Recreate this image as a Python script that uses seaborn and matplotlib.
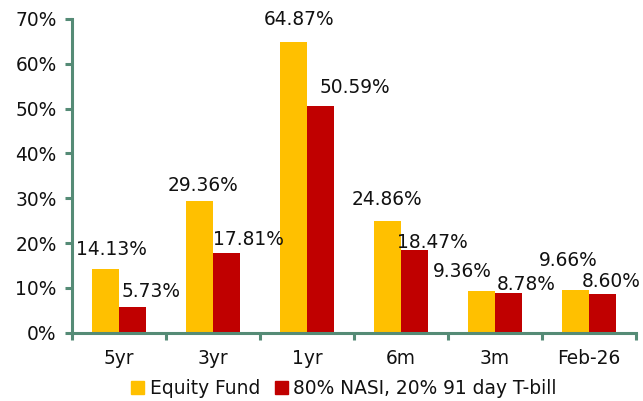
import matplotlib
matplotlib.use("Agg")
import matplotlib.pyplot as plt
from matplotlib.ticker import FixedLocator, PercentFormatter
import seaborn as sns
import pandas as pd

# --- 데이터 ---
periods = ["5yr", "3yr", "1yr", "6m", "3m", "Feb-26"]
fund_name = "Equity Fund"
bench_name = "80% NASI, 20% 91 day T-bill"
fund_returns = [14.13, 29.36, 64.87, 24.86, 9.36, 9.66]
bench_returns = [5.73, 17.81, 50.59, 18.47, 8.78, 8.60]

# label offsets (pixels) from the top of each bar, as Excel placed them
fund_label_offsets = [(6, 20), (4, 16), (6, 22), (0, 22), (-19, 19), (-7, 29)]
bench_label_offsets = [(18, 16), (22, 13), (34, 18), (18, 7), (18, 9), (9, 13)]

YELLOW = "#FFC000"
RED = "#C00000"
AXIS = "#558B76"
TEXT = "#111111"
FS = 13.4

df = pd.DataFrame({
    "period": periods * 2,
    "series": [fund_name] * len(periods) + [bench_name] * len(periods),
    "value": fund_returns + bench_returns,
})

sns.set_style("white")
plt.rcParams["font.family"] = ["DejaVu Sans"]

fig, ax = plt.subplots(figsize=(6.43, 4.01), dpi=100)
fig.subplots_adjust(left=0.112, right=0.989, bottom=0.170, top=0.953)

sns.barplot(data=df, x="period", y="value", hue="series",
            palette=[YELLOW, RED], width=0.58, gap=0, ax=ax,
            saturation=1, legend=False, linewidth=0)

ax.set_xlim(-0.5, len(periods) - 0.5)
ax.set_ylim(0, 70)
ax.yaxis.set_major_locator(FixedLocator(range(0, 71, 10)))
ax.yaxis.set_major_formatter(PercentFormatter(decimals=0))
ax.set_xlabel("")
ax.set_ylabel("")

for side in ["top", "right"]:
    ax.spines[side].set_visible(False)
for side in ["left", "bottom"]:
    ax.spines[side].set_color(AXIS)
    ax.spines[side].set_linewidth(2.2)

ax.tick_params(axis="y", which="major", left=True, length=5, width=2.2,
               color=AXIS, labelsize=FS, pad=6, labelcolor=TEXT)
ax.tick_params(axis="x", which="major", length=0, labelsize=FS, pad=12,
               labelcolor=TEXT)
ax.xaxis.set_minor_locator(FixedLocator([i - 0.5 for i in range(len(periods) + 1)]))
ax.tick_params(axis="x", which="minor", bottom=True, length=5, width=2.2, color=AXIS)

# 데이터 레이블
for container, vals, offs in zip(ax.containers,
                                 [fund_returns, bench_returns],
                                 [fund_label_offsets, bench_label_offsets]):
    for bar, v, (dx, dy) in zip(container, vals, offs):
        ax.annotate(f"{v:.2f}%",
                    xy=(bar.get_x() + bar.get_width() / 2, bar.get_height()),
                    xytext=(dx, dy), textcoords="offset pixels",
                    ha="center", va="center", fontsize=FS, color=TEXT,
                    annotation_clip=False)

handles = [plt.Rectangle((0, 0), 1, 1, color=YELLOW),
           plt.Rectangle((0, 0), 1, 1, color=RED)]
fig.legend(handles, [fund_name, bench_name], loc="lower center",
           bbox_to_anchor=(0.535, -0.035), ncol=2, frameon=False, fontsize=FS,
           handlelength=0.7, handleheight=0.7, handletextpad=0.3,
           columnspacing=0.8, labelcolor=TEXT)

fig.savefig("out.png", dpi=100)
